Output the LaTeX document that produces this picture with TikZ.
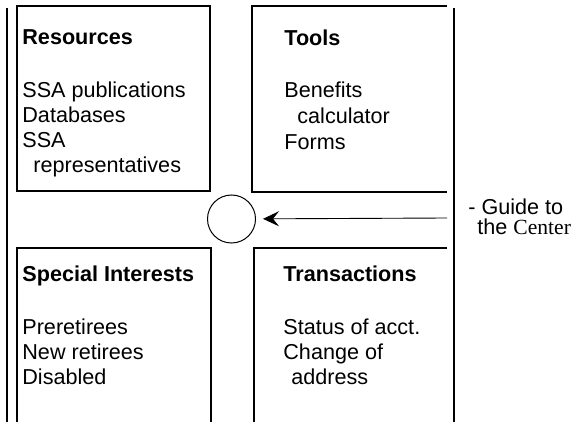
\documentclass[tikz,border=0pt]{standalone}
\usepackage{fontspec}
\setmainfont{Liberation Sans}
\newfontfamily\centerfont{Liberation Serif}
\usetikzlibrary{arrows.meta}
\begin{document}
\begin{tikzpicture}[x=0.5pt,y=-0.5pt]

    \useasboundingbox (0,0) rectangle (579,422);
    \tikzset{headstyle/.style={anchor=base west,inner sep=0pt,font=\fontsize{10.8}{12.5}\selectfont\bfseries},
             itemstyle/.style={anchor=base west,inner sep=0pt,font=\fontsize{10.8}{12.5}\selectfont}}

    % outer rails
    \begin{scope}[every path/.style={line width=0.9pt}]
        \draw (7,8) -- (7,422);
        \draw (454,8) -- (454,422);
    \end{scope}

    % the four boxes
    \begin{scope}[every path/.style={line width=0.7pt}]
        \draw (17,6) rectangle (210,191);
        \draw (447,6) -- (252,6) -- (252,192) -- (447,192);
        \draw (17,422) -- (17,248) -- (211,248) -- (211,422);
        \draw (447,248) -- (254,248) -- (254,422);
    \end{scope}

    \node[headstyle] (res) at (22,45) {Resources};
    \node[itemstyle] (res1) at (22,98) {SSA publications};
    \node[itemstyle] (res2) at (22,123) {Databases};
    \node[itemstyle] (res3) at (22,148) {SSA};
    \node[itemstyle] (res4) at (33,173) {representatives};

    \node[headstyle] (tool) at (284,46) {Tools};
    \node[itemstyle] (tool1) at (284,98) {Benefits};
    \node[itemstyle] (tool2) at (297,124) {calculator};
    \node[itemstyle] (tool3) at (284,150) {Forms};

    \node[headstyle] (spec) at (22,282) {Special Interests};
    \node[itemstyle] (spec1) at (22,335) {Preretirees};
    \node[itemstyle] (spec2) at (22,360) {New retirees};
    \node[itemstyle] (spec3) at (22,385) {Disabled};

    \node[headstyle] (trans) at (283,282) {Transactions};
    \node[itemstyle] (trans1) at (283,335) {Status of acct.};
    \node[itemstyle] (trans2) at (283,360) {Change of};
    \node[itemstyle] (trans3) at (291,385) {address};

    % hub and guide
    \node[draw,circle,line width=0.5pt,minimum size=24pt,inner sep=0pt] (hub) at (231.5,219) {};
    \coordinate (g0) at (447,218);
    \draw[line width=0.45pt,shorten >=3.5pt,-{Stealth[length=8pt,width=7.5pt,inset=3pt]}] (g0) -- (hub);

    \node[itemstyle] (guide1) at (468,215) {- Guide to};
    \node[itemstyle] (guide2) at (477,235) {the {\centerfont Center}};

\end{tikzpicture}
\end{document}
